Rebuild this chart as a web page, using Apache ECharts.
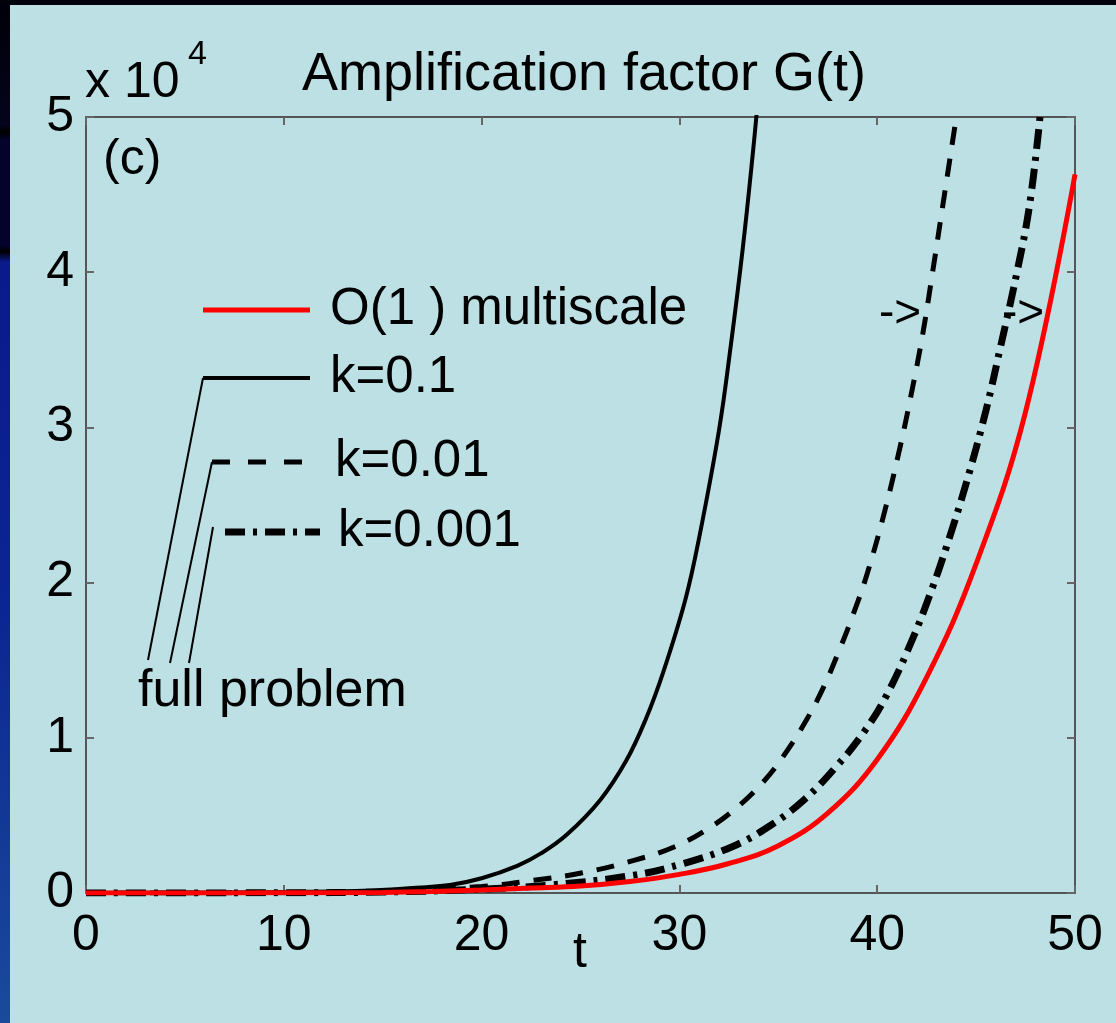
<!doctype html>
<html lang="en">
<head>
    <meta charset="UTF-8">
    <title>Amplification factor G(t)</title>
    <style>
        * {
            margin: 0;
            padding: 0;
        }

        body {
            width: 1116px;
            height: 1023px;
            overflow: hidden;
            background: linear-gradient(to bottom, #000008 0px, #04041c 125px, #000 132px, #03032c 140px,
                #03032c 245px, #000 252px, #0a1a8a 262px, #0b2592 600px, #1a4a9c 1023px);
        }

        .topbar {
            position: absolute;
            left: 0;
            top: 0;
            width: 1116px;
            height: 5px;
            background: #02020c;
        }

        .panel {
            position: absolute;
            left: 10px;
            top: 5px;
            width: 1106px;
            height: 1018px;
            background: #bce0e4;
        }

        #main {
            position: absolute;
            left: 0;
            top: 0;
            width: 1116px;
            height: 1023px;
        }
    </style>
</head>
<body>
<div class="topbar"></div>
<div class="panel"></div>
<div id="main"></div>
<script src="https://cdn.jsdelivr.net/npm/echarts@6/dist/echarts.min.js"></script>
<script type="application/javascript">
    // t ticks / G ticks
    const xTicks = [0, 10, 20, 30, 40, 50];
    const yTicks = [0, 1, 2, 3, 4, 5]; // x 10^4

    // O(1) multiscale (red)
    const tMulti = [0, 5, 10, 15, 17.5, 20, 22.5, 25, 27.5, 30, 32.5, 35, 37.5, 40, 42.5, 45, 47.5, 50];
    const gMulti = [0, 3, 10, 40, 100, 200, 320, 450, 740, 1200, 1900, 3050, 5150, 8600, 13900, 21200, 31000, 46300];

    // full problem k=0.1 (solid black)
    const tK1 = [0, 5, 10, 14, 16, 18.4, 20, 21.8, 23, 24.3, 26, 27.3, 28.3, 29.2, 30.3, 31, 32, 32.6, 33.2, 33.7, 34];
    const gK1 = [0, 20, 60, 150, 280, 520, 950, 1750, 2550, 3750, 6000, 8500, 11200, 14300, 18900, 22900, 29800, 35300, 41500, 47500, 51500];

    // full problem k=0.01 (dashed)
    const tK2 = [0, 5, 10, 15, 20, 22.5, 25.1, 27.7, 29.7, 31.4, 32.9, 34.2, 35.25, 36.4, 37.3, 38.1, 38.8, 39.5, 40.4, 41.15, 41.7, 42.3, 42.8, 43.4, 44.0];
    const gK2 = [0, 5, 20, 100, 420, 800, 1300, 2100, 2950, 4100, 5500, 7100, 8800, 11100, 13300, 15700, 18000, 20600, 24700, 28700, 32000, 36000, 40000, 45000, 50000];

    // full problem k=0.001 (dash-dot)
    const tK3 = [0, 5, 10, 15, 20, 23.5, 27.7, 30.2, 32.7, 34.6, 36.3, 37.9, 39.4, 40.5, 41.8, 42.8, 43.5, 44.5, 45.5, 46.2, 47.05, 47.7, 48.23];
    const gK3 = [0, 5, 15, 60, 250, 520, 1150, 1900, 3000, 4350, 6000, 8100, 10500, 12800, 16400, 19700, 22300, 26400, 31100, 35000, 39900, 44300, 50000];

    const FONT = 'Liberation Sans, Arial, sans-serif';

    const zip = function (xs, ys) {
        return xs.map(function (x, i) {
            return [x, ys[i]];
        });
    };

    const boxAxis = function (base) {
        return Object.assign({
            type: 'value',
            min: 0,
            max: 50,
            interval: 10,
            splitLine: {show: false},
            axisLine: {show: true, onZero: false, lineStyle: {color: '#555', width: 2}},
            axisTick: {show: true, inside: true, length: 8, lineStyle: {color: '#666', width: 2}}
        }, base);
    };

    const txt = function (text, x, y, size, align) {
        return {
            type: 'text',
            x: x,
            y: y,
            z: 100,
            style: {
                text: text,
                fill: '#000',
                font: size + 'px ' + FONT,
                align: align || 'left',
                verticalAlign: 'middle'
            }
        };
    };

    const seg = function (x1, y1, x2, y2, color, width, dash) {
        return {
            type: 'line',
            z: 100,
            shape: {x1: x1, y1: y1, x2: x2, y2: y2},
            style: {stroke: color, lineWidth: width, lineDash: dash || null}
        };
    };

    var chart = echarts.init(document.getElementById('main'));

    const curve = function (name, ts, gs, style) {
        return {
            name: name,
            type: 'line',
            data: zip(ts, gs),
            smooth: 0.4,
            showSymbol: false,
            lineStyle: style
        };
    };

    const option = {
        animation: false,
        textStyle: {fontFamily: FONT},
        grid: {left: 86, top: 117, right: 41, bottom: 130},
        xAxis: [
            boxAxis({
                position: 'bottom',
                axisLabel: {
                    color: '#000', fontSize: 50, margin: 18, fontFamily: FONT,
                    customValues: xTicks
                }
            }),
            boxAxis({position: 'top', axisLabel: {show: false}})
        ],
        yAxis: [
            boxAxis({
                max: 50000, interval: 10000, position: 'left',
                axisLabel: {
                    color: '#000', fontSize: 50, margin: 12, fontFamily: FONT,
                    formatter: function (v) {
                        return String(yTicks[Math.round(v / 10000)]);
                    }
                }
            }),
            boxAxis({max: 50000, interval: 10000, position: 'right', axisLabel: {show: false}})
        ],
        series: [
            curve('k=0.1', tK1, gK1, {color: '#000', width: 4}),
            curve('k=0.01', tK2, gK2, {color: '#000', width: 5, type: [18, 14]}),
            curve('k=0.001', tK3, gK3, {color: '#000', width: 7, type: [20, 8, 4, 8]}),
            curve('O(1) multiscale', tMulti, gMulti, {color: '#ff0000', width: 5})
        ],
        graphic: [
            txt('Amplification factor G(t)', 584, 75, 54, 'center'),
            txt('x 10', 85, 83, 50),
            txt('4', 188, 55, 34),
            txt('(c)', 103, 160, 50),
            txt('t', 580, 953, 50, 'center'),

            // legend
            seg(203, 310, 310, 310, '#ff0000', 5),
            txt('O(1 ) multiscale', 330, 310, 51),
            seg(203, 378, 310, 378, '#000', 4),
            seg(203, 378, 148, 660, '#000', 2),
            txt('k=0.1', 330, 378, 51),
            seg(212, 462, 306, 462, '#000', 5, [18, 18]),
            seg(212, 462, 170, 663, '#000', 2),
            txt('k=0.01', 335, 462, 51),
            seg(225, 532, 320, 532, '#000', 7, [20, 8, 4, 8]),
            seg(213, 527, 189, 663, '#000', 2),
            txt('k=0.001', 338, 532, 51),
            txt('full problem', 138, 692, 52),

            // arrows
            txt('->', 879, 314, 46),
            txt('->', 1002, 314, 46)
        ]
    };

    option && chart.setOption(option);
</script>
</body>
</html>
